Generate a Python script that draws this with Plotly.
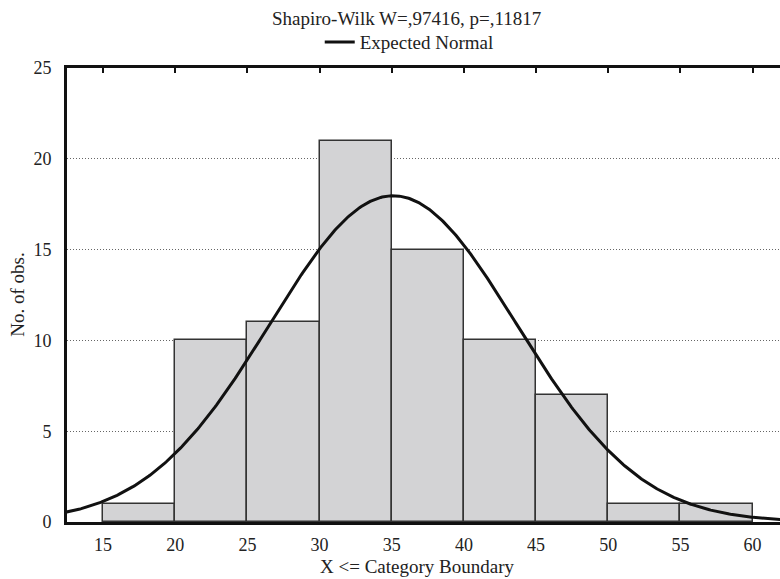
import numpy as np
import plotly.graph_objects as go

# Data
bin_lower = [15, 20, 25, 30, 35, 40, 45, 50, 55]
bin_upper = [20, 25, 30, 35, 40, 45, 50, 55, 60]
counts = [1, 10, 11, 21, 15, 10, 7, 1, 1]
x_ticks = [15, 20, 25, 30, 35, 40, 45, 50, 55, 60]
y_ticks = [0, 5, 10, 15, 20, 25]
normal_mean = 35.1
normal_sd = 8.55

title_text = "Shapiro-Wilk W=,97416, p=,11817"
legend_text = "Expected Normal"
x_title = "X <= Category Boundary"
y_title = "No. of obs."

FONT = "'Liberation Serif', 'Times New Roman', 'DejaVu Serif', serif"
TXT = "#222222"
mids = [(a + b) / 2 for a, b in zip(bin_lower, bin_upper)]
widths = [b - a for a, b in zip(bin_lower, bin_upper)]
n_total = sum(counts)
bw = widths[0]

xr = [12.5, 61.9]
xc = np.linspace(10, 65, 600)
yc = n_total * bw / (normal_sd * np.sqrt(2 * np.pi)) * np.exp(-0.5 * ((xc - normal_mean) / normal_sd) ** 2)

fig = go.Figure()
fig.add_trace(go.Bar(
    x=mids, y=counts, width=widths,
    marker=dict(color="#d3d3d5", line=dict(color="#333333", width=1.5)),
    showlegend=False, hoverinfo="x+y",
))
fig.add_trace(go.Scatter(
    x=xc, y=yc, mode="lines", name=legend_text,
    line=dict(color="#111111", width=3), showlegend=True,
))
fig.add_trace(go.Scatter(x=[xr[0]], y=[0], xaxis="x2", mode="markers",
                         marker=dict(opacity=0), showlegend=False, hoverinfo="skip"))

fig.update_layout(
    width=780, height=579,
    margin=dict(l=67, r=0, t=68, b=57),
    paper_bgcolor="white", plot_bgcolor="white",
    font=dict(family=FONT, size=19, color=TXT),
    bargap=0,
    xaxis=dict(
        range=xr, tickvals=x_ticks, ticktext=[str(v) for v in x_ticks],
        showline=True, linecolor="#111111", linewidth=3,
        showgrid=False, zeroline=False, ticks="", ticklabelstandoff=4,
        tickfont=dict(family=FONT, size=18, color=TXT),
    ),
    xaxis2=dict(
        range=xr, overlaying="x", side="top", tickvals=x_ticks,
        showline=True, linecolor="#111111", linewidth=2.5,
        ticks="inside", ticklen=5, tickwidth=1.5, tickcolor="#111111",
        showticklabels=False, showgrid=False, zeroline=False,
    ),
    yaxis=dict(
        range=[0, 25], tickvals=y_ticks, ticktext=[str(v) for v in y_ticks],
        showline=True, linecolor="#111111", linewidth=3,
        showgrid=True, gridcolor="#666666", gridwidth=1, griddash="1px,2px",
        zeroline=False, ticks="", ticklabelstandoff=9,
        tickfont=dict(family=FONT, size=18, color=TXT),
    ),
    legend=dict(
        orientation="h", x=0.48, y=1.057, xanchor="center", yanchor="middle",
        font=dict(family=FONT, size=19, color=TXT),
        bgcolor="rgba(0,0,0,0)",
    ),
    annotations=[
        dict(text=title_text, x=0.4755, y=1.11, xref="paper", yref="paper",
             xanchor="center", yanchor="middle", showarrow=False,
             font=dict(family=FONT, size=19, color=TXT)),
        dict(text=x_title, x=0.4915, y=-0.097, xref="paper", yref="paper",
             xanchor="center", yanchor="middle", showarrow=False,
             font=dict(family=FONT, size=19, color=TXT)),
        dict(text=y_title, x=-0.0705, y=0.5, xref="paper", yref="paper",
             xanchor="center", yanchor="middle", showarrow=False, textangle=-90,
             font=dict(family=FONT, size=19, color=TXT)),
    ],
)

fig.write_html("out.html")
